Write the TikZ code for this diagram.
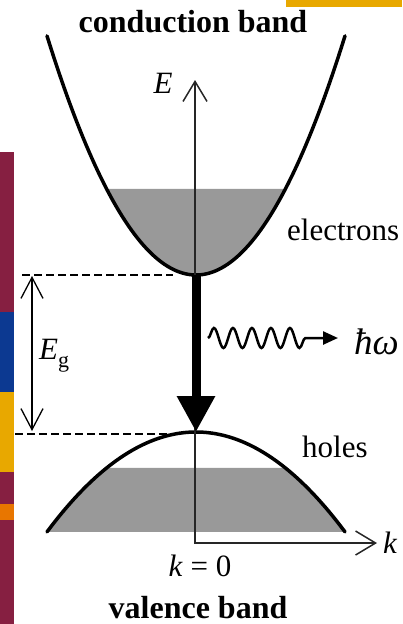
\documentclass[tikz,border=0pt]{standalone}
\usepackage{fontspec}
\setmainfont{Liberation Serif}
\usetikzlibrary{arrows.meta,decorations.pathmorphing}
\definecolor{barmaroon}{RGB}{134,31,65}
\definecolor{barblue}{RGB}{12,57,145}
\definecolor{bargold}{RGB}{232,168,0}
\definecolor{barorange}{RGB}{232,118,0}
\begin{document}
\begin{tikzpicture}[x=1pt,y=-1pt,
  curve/.style={line width=3.5pt,line cap=round},
  stipple/.style={fill=black!40},
  axisline/.style={line width=1.5pt,draw=black!85,{Straight Barb[length=20pt,width=24pt]}-{Straight Barb[length=20pt,width=24pt]}},
  gaparrow/.style={line width=1.3pt,{Straight Barb[length=21pt,width=22pt]}-{Straight Barb[length=21pt,width=22pt]}},
  dashline/.style={line width=1.6pt,dash pattern=on 8pt off 4pt},
  lbl/.style={inner sep=0pt,font=\fontsize{31}{36}\selectfont},
  title/.style={inner sep=0pt,font=\fontsize{32}{38}\selectfont\bfseries}]
\useasboundingbox (0,0) rectangle (402,624);
% side decoration bars
\fill[barmaroon] (0,152) rectangle (14,312);
\fill[barblue] (0,312) rectangle (14,392);
\fill[bargold] (0,392) rectangle (14,472);
\fill[barmaroon] (0,472) rectangle (14,504);
\fill[barorange] (0,504) rectangle (14,520);
\fill[barmaroon] (0,520) rectangle (14,624);
\fill[bargold] (286,0) rectangle (402,7);
% fills
\fill[stipple] plot[domain=-89.4:89.4,samples=50] ({196+\x},{275-1.077*(\x/10)*(\x/10)}) -- cycle;
\fill[stipple] plot[domain=-149:-89.4,samples=30] ({196+\x},{432+0.45*(\x/10)*(\x/10)})
  -- plot[domain=89.4:149,samples=30] ({196+\x},{432+0.45*(\x/10)*(\x/10)}) -- cycle;
% bands
\draw[curve] plot[domain=-149:149,samples=100] ({196+\x},{275-1.077*(\x/10)*(\x/10)});
\draw[curve] plot[domain=-149:149,samples=100] ({196+\x},{432+0.45*(\x/10)*(\x/10)});
% axes
\coordinate (Etip) at (195,80);
\coordinate (origin) at (195,543);
\coordinate (ktip) at (377,543);
\draw[axisline] (Etip) -- (origin) -- (ktip);
% dashed levels
\coordinate (d1a) at (22,275); \coordinate (d1b) at (173,275);
\coordinate (d2a) at (15,434); \coordinate (d2b) at (167,434);
\draw[dashline] (d1a) -- (d1b);
\draw[dashline] (d2a) -- (d2b);
% gap arrow
\coordinate (g1) at (32,276); \coordinate (g2) at (32,431);
\draw[gaparrow] (g1) -- (g2);
% transition arrow
\coordinate (cbmin) at (196,275); \coordinate (vbmax) at (196,432);
\draw[line width=9pt,-{Triangle[length=36pt,width=36pt]}] (cbmin) -- (vbmax);
% photon
\coordinate (w1) at (208,338); \coordinate (w2) at (338,338);
\draw[line width=2.5pt,decorate,decoration={snake,amplitude=10pt,segment length=19pt,post length=24pt},-{Triangle[length=15pt,width=13pt]}] (w1) -- (w2);
% labels
\node[title,anchor=base] (cb) at (193,32) {conduction band};
\node[title,anchor=base] (vb) at (198,618) {valence band};
\node[lbl] (Elab) at (163,83) {\textit{E}};
\node[lbl,anchor=base west] (el) at (287,240) {electrons};
\node[lbl,anchor=base west] (ho) at (302,457) {holes};
\node[lbl,anchor=base west,font=\fontsize{37}{42}\selectfont] (hw) at (354,354) {\textit{ħω}};
\node[lbl,anchor=base west] (Eg) at (39,359) {\textit{E}\raisebox{-8pt}{\fontsize{22}{24}\selectfont g}};
\node[lbl,anchor=base] (k0) at (200,576) {\textit{k} = 0};
\node[lbl,anchor=base west] (klab) at (383,553) {\textit{k}};
\end{tikzpicture}
\end{document}
